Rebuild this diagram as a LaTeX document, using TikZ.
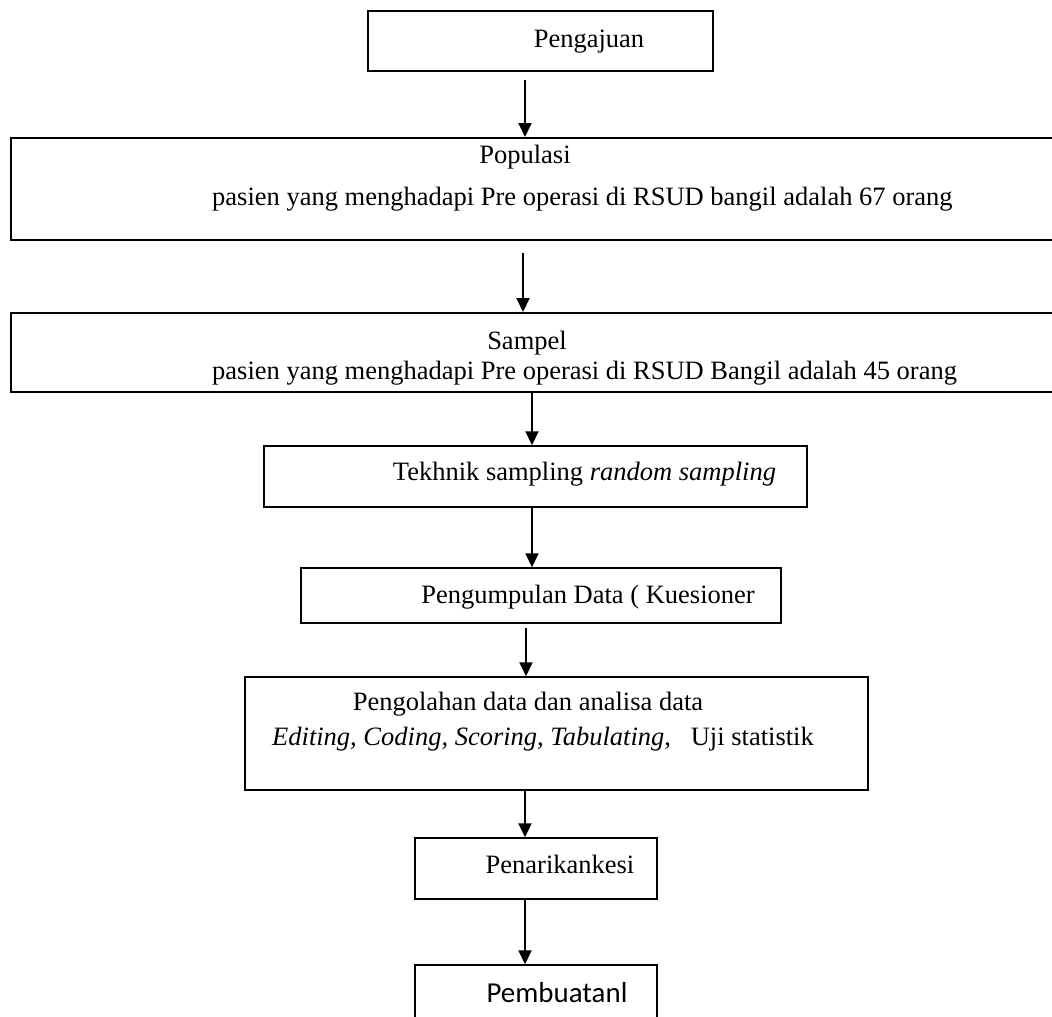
\documentclass[tikz,border=0pt]{standalone}
\usepackage{fontspec}
\setmainfont{Liberation Serif}
\newfontfamily\calibrifont{Carlito}
\usetikzlibrary{arrows.meta}
\begin{document}
\begin{tikzpicture}[x=1pt,y=-1pt,
  box/.style={draw, line width=1.5pt, inner sep=0pt},
  widebox/.style={draw, line width=2pt, inner sep=0pt},
  txt/.style={inner sep=0pt, font=\fontsize{26.5}{30}\selectfont},
  ctxt/.style={inner sep=0pt, font=\calibrifont\fontsize{28.9}{32}\selectfont},
  arr/.style={line width=2pt, -{Triangle[width=13pt,length=14pt]}}]
\useasboundingbox (0,0) rectangle (1052,1017);
\begin{scope}
\clip (0,0) rectangle (1052,1017);
% boxes
\node[box, minimum width=345pt, minimum height=60pt] (p1) at (540.5,41) {};
\node[widebox, minimum width=1059pt, minimum height=102pt] (p2) at (540.5,189) {};
\node[widebox, minimum width=1059pt, minimum height=79pt] (p3) at (540.5,352.5) {};
\node[box, minimum width=543pt, minimum height=61pt] (p4) at (535.5,476.5) {};
\node[box, minimum width=480pt, minimum height=55pt] (p5) at (541,595.5) {};
\node[box, minimum width=623pt, minimum height=113pt] (p6) at (556.5,733.5) {};
\node[box, minimum width=242pt, minimum height=61pt] (p7) at (536,868.5) {};
\node[box, minimum width=242pt, minimum height=75pt] (p8) at (536,1002.5) {};
% texts
\node[txt, anchor=base] (t1) at (589,47) {Pengajuan};
\node[txt, anchor=base] (t2a) at (525,163) {Populasi};
\node[txt, anchor=base west] (t2b) at (212,205) {pasien yang menghadapi Pre operasi di RSUD bangil adalah 67 orang};
\node[txt, anchor=base] (t3a) at (527,349) {Sampel};
\node[txt, anchor=base west] (t3b) at (212,379) {pasien yang menghadapi Pre operasi di RSUD Bangil adalah 45 orang};
\node[txt, anchor=base] (t4) at (584.5,480) {Tekhnik sampling \textit{random sampling}};
\node[txt, anchor=base] (t5) at (588,603) {Pengumpulan Data ( Kuesioner};
\node[txt, anchor=base] (t6a) at (528,710) {Pengolahan data dan analisa data};
\node[txt, anchor=base west] (t6b) at (272,745) {\textit{Editing, Coding, Scoring, Tabulating},\ \ \ Uji statistik};
\node[txt, anchor=base] (t7) at (560,873) {Penarikankesi};
\node[ctxt, anchor=base] (t8) at (557,1002) {Pembuatanl};
% arrow columns
\coordinate (a1) at (525,0);
\coordinate (a2) at (523,0);
\coordinate (a3) at (532,0);
\coordinate (a5) at (526,0);
% connectors
\draw[arr, shorten <=8pt] (p1.south -| a1) -- (p2.north -| a1);
\draw[arr, shorten <=12pt] (p2.south -| a2) -- (p3.north -| a2);
\draw[arr] (p3.south -| a3) -- (p4.north -| a3);
\draw[arr] (p4.south -| a3) -- (p5.north -| a3);
\draw[arr, shorten <=4pt] (p5.south -| a5) -- (p6.north -| a5);
\draw[arr] (p6.south -| a1) -- (p7.north -| a1);
\draw[arr] (p7.south -| a1) -- (p8.north -| a1);
\end{scope}
\end{tikzpicture}
\end{document}
